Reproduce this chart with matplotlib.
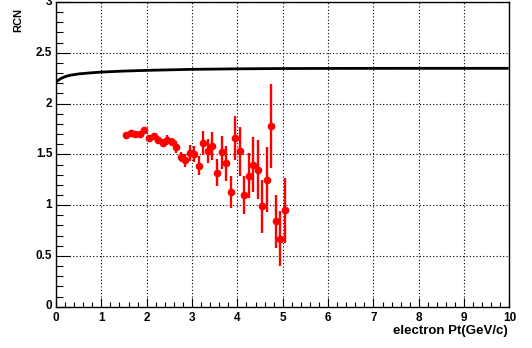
import matplotlib
matplotlib.use("Agg")
import matplotlib.pyplot as plt
from matplotlib.ticker import MultipleLocator

# electron RCN data points
pt = [1.55, 1.65, 1.75, 1.85, 1.95,
      2.05, 2.15, 2.25, 2.35, 2.45, 2.55, 2.65, 2.75, 2.85, 2.95,
      3.05, 3.15, 3.25, 3.35, 3.45, 3.55, 3.65, 3.75, 3.85, 3.95,
      4.05, 4.15, 4.25, 4.35, 4.45, 4.55, 4.65, 4.75, 4.85, 4.95,
      5.05]
rcn = [1.69, 1.71, 1.70, 1.70, 1.74,
       1.66, 1.68, 1.64, 1.61, 1.64, 1.62, 1.57, 1.47, 1.44, 1.51,
       1.50, 1.39, 1.61, 1.53, 1.58, 1.32, 1.52, 1.41, 1.13, 1.66,
       1.53, 1.10, 1.29, 1.40, 1.35, 0.99, 1.25, 1.78, 0.84, 0.67,
       0.95]
rcn_err = [0.02, 0.02, 0.02, 0.02, 0.02,
           0.03, 0.03, 0.04, 0.04, 0.05, 0.04, 0.06, 0.05, 0.06, 0.08,
           0.08, 0.09, 0.12, 0.12, 0.14, 0.13, 0.16, 0.17, 0.16, 0.22,
           0.24, 0.19, 0.22, 0.27, 0.29, 0.26, 0.32, 0.41, 0.26, 0.27,
           0.32]

# black reference curve
curve_pt = [0.0, 0.05, 0.1, 0.2, 0.3, 0.5, 0.75, 1.0, 1.5, 2.0, 3.0, 4.0, 5.0, 6.0, 8.0, 9.95]
curve_rcn = [2.21, 2.23, 2.245, 2.265, 2.278, 2.292, 2.302, 2.31, 2.32, 2.327, 2.337,
             2.342, 2.345, 2.346, 2.347, 2.347]

plt.rcParams["font.family"] = ["Liberation Sans", "DejaVu Sans"]
plt.rcParams["font.weight"] = "bold"

fig = plt.figure(figsize=(5.32, 3.48), dpi=100)
ax = fig.add_axes([56 / 532, 1 - 306.7 / 348, 453.5 / 532, 304.7 / 348])

ax.plot(curve_pt, curve_rcn, color="black", lw=2, zorder=3)
ax.errorbar(pt, rcn, yerr=rcn_err, fmt="o", color="#ff0000", ms=4.5,
            elinewidth=1.7, capsize=0, zorder=4)

ax.set_xlim(0, 10)
ax.set_ylim(0, 3)
ax.xaxis.set_major_locator(MultipleLocator(1))
ax.xaxis.set_minor_locator(MultipleLocator(0.2))
ax.yaxis.set_major_locator(MultipleLocator(0.5))
ax.yaxis.set_minor_locator(MultipleLocator(0.1))
ax.set_xticklabels([])
ax.set_yticklabels([])

ax.tick_params(axis="x", which="major", direction="in", length=6.5, width=0.8, top=False)
ax.tick_params(axis="x", which="minor", direction="in", length=3.3, width=0.8, top=False)
ax.tick_params(axis="y", which="major", direction="in", length=9.8, width=0.8, right=False)
ax.tick_params(axis="y", which="minor", direction="in", length=4.9, width=0.8, right=False)

ax.grid(True, which="major", color="black", linestyle=(0, (1, 2)), lw=0.8)
for s in ax.spines.values():
    s.set_linewidth(1.0)

# tick labels drawn ROOT style
for v in range(0, 11):
    ax.text(v, -0.016, str(v), transform=ax.get_xaxis_transform(), ha="center", va="top",
            fontsize=8.5, fontweight="bold")
for v in [0.5, 1, 1.5, 2, 2.5, 3]:
    ax.text(-0.008, v, f"{v:g}", transform=ax.get_yaxis_transform(), ha="right", va="center",
            fontsize=8.5, fontweight="bold")
ax.text(-0.008, 0.01, "0", transform=ax.get_yaxis_transform(), ha="right", va="center",
        fontsize=8.5, fontweight="bold")

fig.text(508 / 532, 1 - 325 / 348, "electron Pt(GeV/c)", ha="right", va="top",
         fontsize=9.5, fontweight="bold")
fig.text(18 / 532, 1 - 8 / 348, "RCN", rotation=90, ha="center", va="top",
         fontsize=8, fontweight="bold")

fig.savefig("out.png", dpi=100)
